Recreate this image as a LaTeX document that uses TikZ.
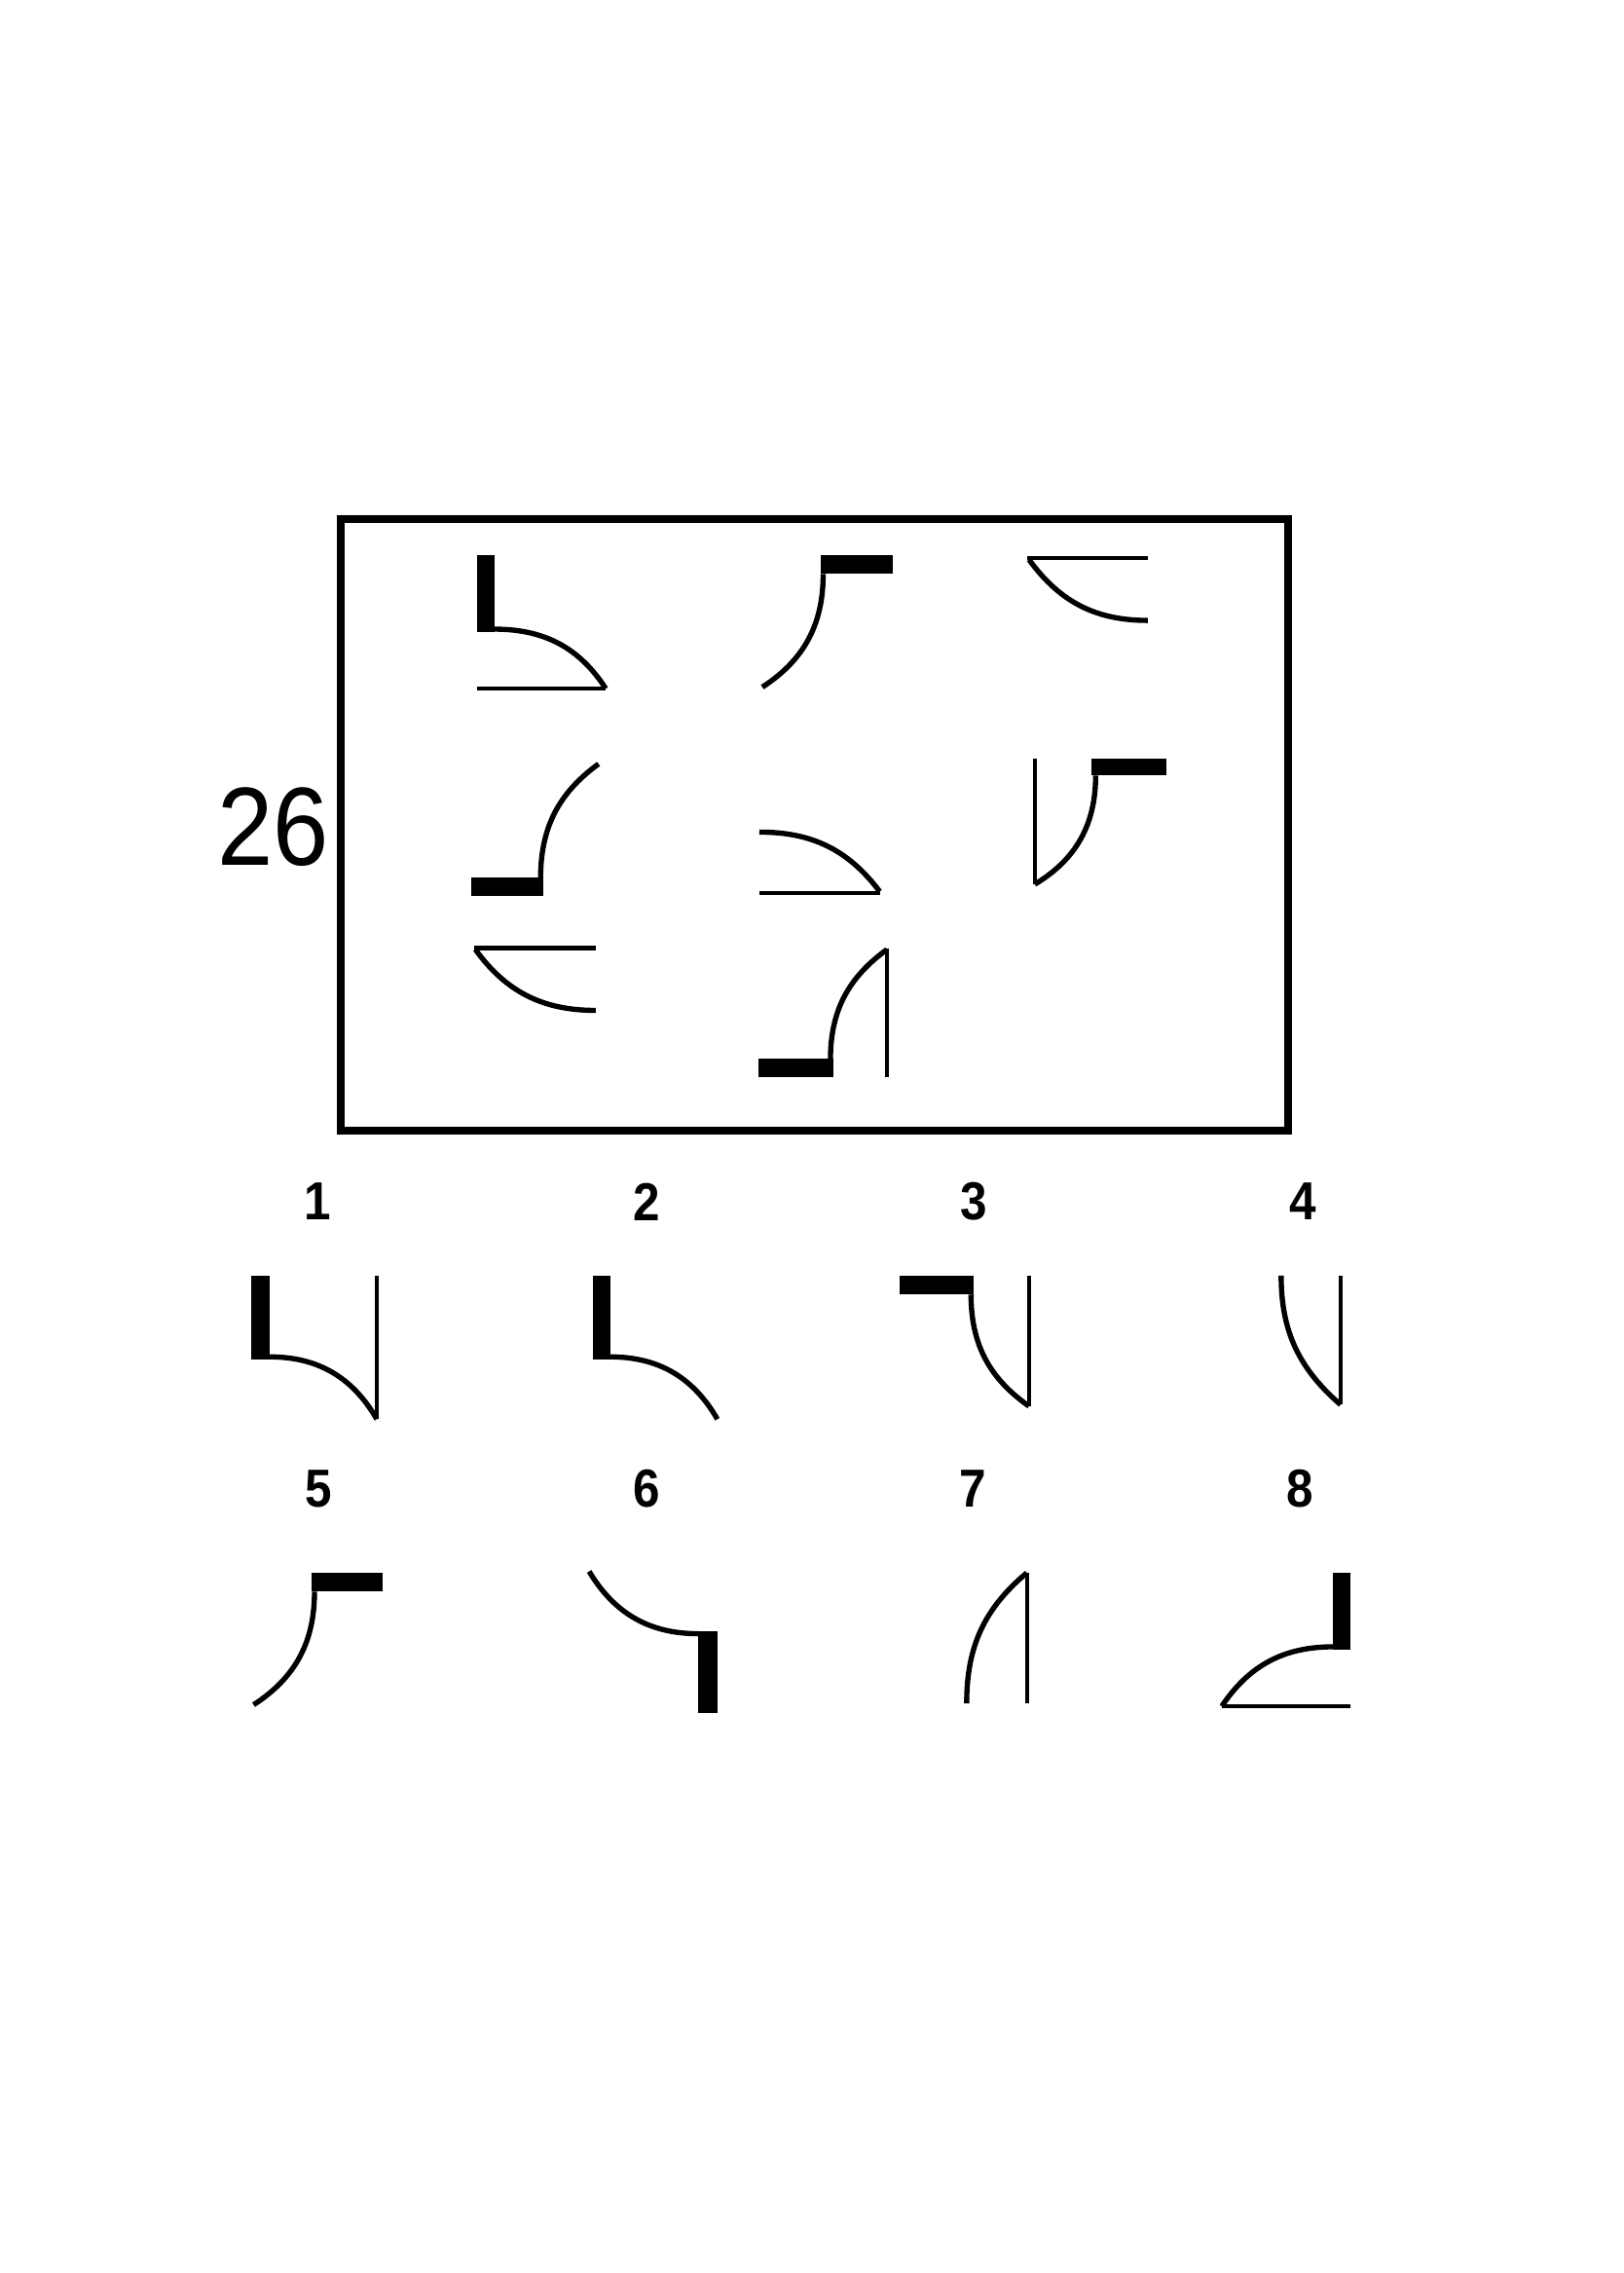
\documentclass[tikz,border=0pt]{standalone}
\usepackage{fontspec}
\setmainfont{Liberation Sans}
\usepackage{graphicx}
\usepackage{tikz}

\tikzset{
  swing/.style={line width=0.72mm},
  rule/.style={line width=0.55mm},
  frame/.style={line width=1.1mm},
  pick/.style={inner sep=0pt, font=\fontsize{21pt}{21pt}\selectfont\bfseries},
}

\begin{document}
\begin{tikzpicture}[x=0.2mm,y=0.2mm]
\fill[white] (0,0) rectangle (1120,-1568);
\useasboundingbox (0,0) rectangle (1120,-1568);
% puzzle box
\draw[frame] (235.3,-358) rectangle (889,-780);
\node[inner sep=0pt, font=\fontsize{43.7pt}{44pt}\selectfont] (num) at (188.5,-570.5) {\scalebox{0.9}[1]{26}};

% row 1
\fill (329,-383) rectangle (341,-436);
\draw[swing] (341,-434) to[out=0,in=123] (418,-475);
\draw[rule] (329,-475) -- (418,-475);
\fill (566,-383) rectangle (616,-396);
\draw[swing] (568,-396) to[out=-90,in=33] (526,-474);
\draw[rule] (709,-385) -- (792,-385);
\draw[swing] (792,-428) to[out=180,in=-54] (710,-386);
% row 2
\fill (325,-605) rectangle (375,-618);
\draw[swing] (373,-606) to[out=90,in=216] (413,-527);
\draw[swing] (524,-574) to[out=0,in=127] (607,-615);
\draw[rule] (524,-616) -- (607,-616);
\draw[rule] (714,-523) -- (714,-610);
\fill (753,-523) rectangle (805,-535);
\draw[swing] (756,-535) to[out=-90,in=31] (714,-610);
% row 3
\draw[rule] (327,-654) -- (411,-654);
\draw[swing] (411,-697) to[out=180,in=-54] (328,-655);
\fill (523,-730) rectangle (575,-743);
\draw[swing] (573,-731) to[out=90,in=216] (612,-655);
\draw[rule] (612,-654) -- (612,-743);

% answers
\foreach \k/\x/\y in {1/219/829, 2/446/829, 3/672/829, 4/899/829,
                      5/220/1027, 6/446/1027, 7/671/1027, 8/897/1027}
  \node[pick] (opt\k) at (\x,-\y) {\scalebox{0.9}[1]{\k}};

\fill (173,-880) rectangle (186,-938);
\draw[swing] (186,-936) to[out=0,in=120] (260,-979);
\draw[rule] (260,-880) -- (260,-979);
\fill (409,-880) rectangle (421,-938);
\draw[swing] (421,-936) to[out=0,in=120] (495,-979);
\fill (621,-880) rectangle (672,-893);
\draw[swing] (670,-893) to[out=-90,in=145] (710,-970);
\draw[rule] (710,-880) -- (710,-970);
\draw[swing] (884,-880) to[out=-90,in=139] (925,-969);
\draw[rule] (925,-880) -- (925,-969);

\fill (215,-1085) rectangle (264,-1098);
\draw[swing] (217,-1098) to[out=-90,in=33] (175,-1176);
\fill (482,-1125) rectangle (495,-1182);
\draw[swing] (482,-1127) to[out=180,in=-59] (406.5,-1084);
\draw[rule] (708.5,-1085) -- (708.5,-1175);
\draw[swing] (667,-1175) to[out=90,in=220] (708.5,-1085);
\fill (920,-1085) rectangle (932,-1138);
\draw[swing] (920,-1136) to[out=180,in=56] (843,-1177);
\draw[rule] (843,-1177) -- (932,-1177);
\end{tikzpicture}
\end{document}
